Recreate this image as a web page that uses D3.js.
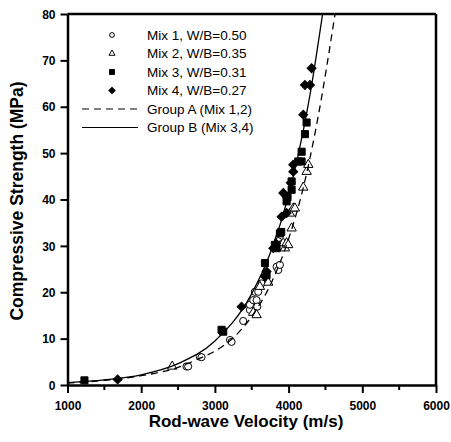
<!DOCTYPE html>
<html>
<head>
<meta charset="utf-8">
<script src="https://cdn.jsdelivr.net/npm/d3@7"></script>
<style>
  body { margin: 0; background: #fff; }
  svg { display: block; font-family: "Liberation Sans", Arial, sans-serif; }
  .tick text { font-weight: bold; font-size: 12px; fill: #000; }
</style>
</head>
<body>
<svg width="451" height="442"></svg>
<script>
// measured points [velocity m/s, strength MPa]
const mix1 = [[2615, 4.0], [2637, 4.0], [2796, 6.1], [2819, 6.0], [3205, 9.7], [3226, 9.3],
  [3384, 13.8], [3475, 16.2], [3475, 17.3], [3520, 18.3], [3566, 18.3], [3543, 20.1],
  [3588, 20.1], [3575, 16.9], [3633, 21.9], [3837, 25.5], [3860, 24.8], [3882, 25.9],
  [3860, 31.0], [3905, 30.4]];
const mix2 = [[2420, 4.0], [3520, 15.6], [3566, 15.1], [3611, 21.2], [3724, 22.1], [3882, 29.8],
  [3927, 30.6], [3950, 29.5], [3973, 30.6], [3995, 30.2], [4018, 37.0], [4041, 33.8],
  [4063, 38.1], [4086, 38.1], [4199, 42.6], [4245, 46.0], [4267, 47.5]];
const mix3 = [[1230, 1.0], [3090, 11.9], [3113, 11.5], [3679, 26.3], [3701, 23.7], [3814, 30.2],
  [3837, 29.5], [3882, 32.7], [3900, 33.0], [3973, 39.6], [3985, 40.5], [4041, 42.1],
  [4041, 43.9], [4131, 48.2], [4176, 48.2], [4177, 50.3], [4222, 54.1], [4244, 56.6]];
const mix4 = [[1680, 1.2], [3362, 16.9], [3679, 23.4], [3701, 24.5], [3792, 29.5], [3830, 30.5],
  [3905, 36.3], [3928, 41.4], [3973, 37.1], [3973, 40.6], [4030, 43.6], [4063, 46.0],
  [4063, 47.5], [4199, 58.3], [4222, 64.7], [4290, 64.7], [4312, 68.3]];
// fitted curves
const groupA = [[1000, 0.4], [1500, 1.0], [2000, 2.0], [2500, 3.8], [2800, 5.8], [3000, 7.3],
  [3250, 10.2], [3500, 14.8], [3750, 21.5], [4000, 31.5], [4200, 42.6], [4400, 57.8], [4630, 80]];
const groupB = [[1000, 0.5], [1500, 1.1], [2000, 2.2], [2500, 4.6], [3000, 9.5], [3500, 19.7],
  [3750, 28.4], [4000, 40.9], [4200, 54.9], [4300, 63.5], [4461, 80]];
const legendLabels = ['Mix 1, W/B=0.50', 'Mix 2, W/B=0.35', 'Mix 3, W/B=0.31',
  'Mix 4, W/B=0.27', 'Group A (Mix 1,2)', 'Group B (Mix 3,4)'];
const xTicks = [1000, 2000, 3000, 4000, 5000, 6000];
const xMinor = [1500, 2500, 3500, 4500, 5500];
const yTicks = [0, 10, 20, 30, 40, 50, 60, 70, 80];

const svg = d3.select('svg');
const x = d3.scaleLinear().domain([1000, 6000]).range([67.5, 436]);
const y = d3.scaleLinear().domain([0, 80]).range([385, 14]);

// frame: top and right borders
svg.append('line').attr('x1', x(1000)).attr('x2', x(6000)).attr('y1', y(80)).attr('y2', y(80))
  .attr('stroke', '#000').attr('stroke-width', 2.5);
svg.append('line').attr('x1', x(6000)).attr('x2', x(6000)).attr('y1', y(80)).attr('y2', y(0))
  .attr('stroke', '#000').attr('stroke-width', 2.5);

// axes
const gx = svg.append('g').attr('transform', 'translate(0,' + y(0) + ')')
  .call(d3.axisBottom(x).tickValues(xTicks).tickSize(8).tickSizeOuter(0).tickPadding(8).tickFormat(d3.format('d')));
gx.selectAll('g.minor').data(xMinor).enter().append('line')
  .attr('x1', function (d) { return x(d); }).attr('x2', function (d) { return x(d); })
  .attr('y1', 0).attr('y2', 5).attr('stroke', '#000').attr('stroke-width', 2);
const gy = svg.append('g').attr('transform', 'translate(' + x(1000) + ',0)')
  .call(d3.axisLeft(y).tickValues(yTicks).tickSize(7).tickSizeOuter(0).tickPadding(5));
[gx, gy].forEach(function (g) {
  g.select('.domain').attr('stroke', '#000').attr('stroke-width', 2.5);
  g.selectAll('.tick line').attr('stroke', '#000').attr('stroke-width', 2);
});
gy.selectAll('.tick text').attr('dy', '0.35em');

// axis titles
svg.append('text').attr('x', 246).attr('y', 427).attr('text-anchor', 'middle')
  .attr('font-weight', 'bold').attr('font-size', '17px').text('Rod-wave Velocity (m/s)');
svg.append('text').attr('transform', 'translate(23,201) rotate(-90)').attr('text-anchor', 'middle')
  .attr('font-weight', 'bold').attr('font-size', '17.5px').text('Compressive Strength (MPa)');

// markers (diamond = square turned 45 degrees)
const plot = svg.append('g');
const sym = {
  circle: d3.symbol().type(d3.symbolCircle).size(40),
  triangle: d3.symbol().type(d3.symbolTriangle).size(38),
  square: d3.symbol().type(d3.symbolSquare).size(50),
  diamond: d3.symbol().type(d3.symbolSquare).size(40)
};
function drawMix(data, shape, filled) {
  plot.selectAll(null).data(data).enter().append('path')
    .attr('d', sym[shape])
    .attr('transform', function (d) {
      return 'translate(' + x(d[0]) + ',' + y(d[1]) + ')' + (shape === 'diamond' ? ' rotate(45)' : '');
    })
    .attr('fill', filled ? '#000' : '#fff')
    .attr('stroke', '#000').attr('stroke-width', 1);
}
drawMix(mix1, 'circle', false);
drawMix(mix2, 'triangle', false);
drawMix(mix3, 'square', true);
drawMix(mix4, 'diamond', true);

// fit curves
svg.append('clipPath').attr('id', 'clip').append('rect')
  .attr('x', x(1000)).attr('y', y(80)).attr('width', x(6000) - x(1000)).attr('height', y(0) - y(80));
const line = d3.line().x(function (d) { return x(d[0]); }).y(function (d) { return y(d[1]); })
  .curve(d3.curveMonotoneX);
svg.append('path').datum(groupA).attr('d', line).attr('clip-path', 'url(#clip)')
  .attr('fill', 'none').attr('stroke', '#000').attr('stroke-width', 1.3).attr('stroke-dasharray', '7,5');
svg.append('path').datum(groupB).attr('d', line).attr('clip-path', 'url(#clip)')
  .attr('fill', 'none').attr('stroke', '#000').attr('stroke-width', 1.3);

// legend
const lg = svg.append('g');
const legendShapes = ['circle', 'triangle', 'square', 'diamond'];
const small = {
  circle: d3.symbol().type(d3.symbolCircle).size(18),
  triangle: d3.symbol().type(d3.symbolTriangle).size(16),
  square: d3.symbol().type(d3.symbolSquare).size(24),
  diamond: d3.symbol().type(d3.symbolSquare).size(20)
};
legendLabels.forEach(function (label, i) {
  const ly = 35 + i * 18.5;
  if (i < 4) {
    lg.append('path').attr('d', small[legendShapes[i]])
      .attr('transform', 'translate(112,' + ly + ')' + (i === 3 ? ' rotate(45)' : ''))
      .attr('fill', i >= 2 ? '#000' : '#fff').attr('stroke', '#000').attr('stroke-width', 1);
  } else {
    lg.append('line').attr('x1', 82).attr('x2', 138).attr('y1', ly).attr('y2', ly)
      .attr('stroke', '#000').attr('stroke-width', 1.2)
      .attr('stroke-dasharray', i === 4 ? '7,5' : null);
  }
  lg.append('text').attr('x', 147).attr('y', ly).attr('dy', '0.35em')
    .attr('font-size', '13.5px').text(label);
});
</script>
</body>
</html>
